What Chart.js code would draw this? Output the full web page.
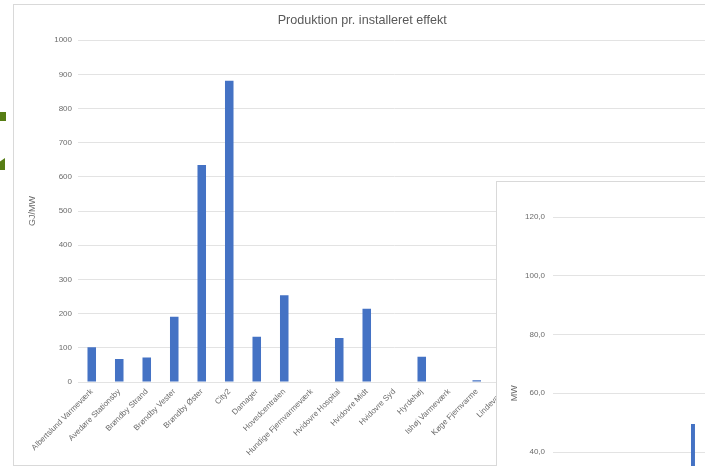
<!DOCTYPE html>
<html>
<head>
<meta charset="utf-8">
<script src="https://cdn.jsdelivr.net/npm/chart.js@4.4.1/dist/chart.umd.min.js"></script>
<style>
  html, body { margin: 0; padding: 0; background: #fff; }
  body { width: 705px; height: 466px; overflow: hidden; position: relative; }
  .frame { position: absolute; border: 1px solid #d9d9d9; background: #fff; box-sizing: border-box; }
  #mainFrame { left: 13px; top: 4px; width: 708px; height: 462px; }
  #overFrame { left: 496px; top: 181px; width: 420px; height: 460px; z-index: 2; }
  .frame canvas { position: absolute; left: 0; top: 0; }
  .mark { position: absolute; background: #567d14; }
</style>
</head>
<body>
<div class="mark" style="left:0;top:112px;width:6px;height:9px;"></div>
<div class="mark" style="left:0;top:158px;width:5px;height:12px;clip-path:polygon(0 30%,100% 0,100% 100%,0 100%);"></div>
<div id="mainFrame" class="frame"><canvas id="main"></canvas></div>
<div id="overFrame" class="frame"><canvas id="over"></canvas></div>
<script>
// ---- Main chart data ----
const chartTitle = 'Produktion pr. installeret effekt';
const yTitle = 'GJ/MW';
const categories = [
  'Albertslund Varmeværk', 'Avedøre Stationsby', 'Brøndby Strand', 'Brøndby Vester',
  'Brøndby Øster', 'City2', 'Damager', 'Hovedcentralen', 'Hundige Fjernvarmeværk',
  'Hvidovre Hospital', 'Hvidovre Midt', 'Hvidovre Syd', 'Hyrdehøj', 'Ishøj Varmeværk',
  'Køge Fjernvarme', 'Lindevang',
  // categories hidden behind the overlapping chart (names not readable)
  '', '', '', '', '', '', ''
];
const values = [
  102, 67, 72, 191,
  635, 881, 132, 254, 0,
  129, 214, 0, 74, 0,
  5, null,
  null, null, null, null, null, null, null
];
const yMin = 0, yMax = 1000, yStep = 100;

// ---- Overlapping (partially visible) chart data ----
const overTitle = 'MW';
const overCategories = ['', '', '', '', '', '', '', '', '', '', '', '', '', '', '', '', '', '', '', ''];
const overValues = [null, null, null, null, null, null, null, null, null, 49.5, null, null, null, null, null, null, null, null, null, null];
const overMin = 0, overMax = 120, overStep = 20;

const textColor = '#6b6b6b';
const gridColor = '#e3e3e3';
const barColor = '#4472c4';

function fixedW(w) { return s => { s.width = w; }; }
function fixedH(h) { return s => { s.height = h; }; }

// main canvas 706 x 460
const mc = document.getElementById('main');
mc.style.width = '706px'; mc.style.height = '460px';
new Chart(mc, {
  type: 'bar',
  data: {
    labels: categories,
    datasets: [{ data: values, backgroundColor: barColor, borderWidth: 0,
      categoryPercentage: 1, barPercentage: 0.31 }]
  },
  options: {
    responsive: false, animation: false, maintainAspectRatio: false,
    layout: { padding: { left: 0, right: 9.5, top: 0, bottom: 0 } },
    plugins: {
      legend: { display: false }, tooltip: { enabled: false },
      title: { display: true, text: chartTitle, color: '#595959',
        font: { family: 'Liberation Sans', size: 12.6, weight: 'normal' }, padding: { top: 8, bottom: 12 } }
    },
    scales: {
      x: {
        grid: { display: false }, border: { display: false },
        ticks: { autoSkip: false, maxRotation: 45, minRotation: 45, color: textColor,
          padding: -3, font: { family: 'Liberation Sans', size: 8 } },
        afterFit: fixedH(83)
      },
      y: {
        min: yMin, max: yMax,
        grid: { color: gridColor, drawTicks: false, lineWidth: 1 },
        border: { display: false },
        ticks: { stepSize: yStep, color: textColor, padding: 6,
          font: { family: 'Liberation Sans', size: 8 },
          callback: v => String(v) },
        title: { display: true, text: yTitle, color: textColor,
          font: { family: 'Liberation Sans', size: 9 }, padding: { top: 13.6, bottom: 0 } },
        afterFit: fixedW(64)
      }
    }
  }
});

// overlay canvas 418 x 458
const oc = document.getElementById('over');
oc.style.width = '418px'; oc.style.height = '458px';
new Chart(oc, {
  type: 'bar',
  data: {
    labels: overCategories,
    datasets: [{ data: overValues, backgroundColor: barColor, borderWidth: 0,
      categoryPercentage: 1, barPercentage: 0.27 }]
  },
  options: {
    responsive: false, animation: false, maintainAspectRatio: false,
    layout: { padding: { left: 0, right: 67.3, top: 35, bottom: 0 } },
    plugins: { legend: { display: false }, tooltip: { enabled: false } },
    scales: {
      x: {
        grid: { display: false }, border: { display: false },
        ticks: { display: false },
        afterFit: fixedH(70.5)
      },
      y: {
        min: overMin, max: overMax,
        grid: { color: gridColor, drawTicks: false, lineWidth: 1 },
        border: { display: false },
        ticks: { stepSize: overStep, color: textColor, padding: 8,
          font: { family: 'Liberation Sans', size: 8 },
          callback: v => v.toFixed(1).replace('.', ',') },
        title: { display: true, text: overTitle, color: textColor,
          font: { family: 'Liberation Sans', size: 9 }, padding: { top: 12.6, bottom: 0 } },
        afterFit: fixedW(56)
      }
    }
  }
});
</script>
</body>
</html>
